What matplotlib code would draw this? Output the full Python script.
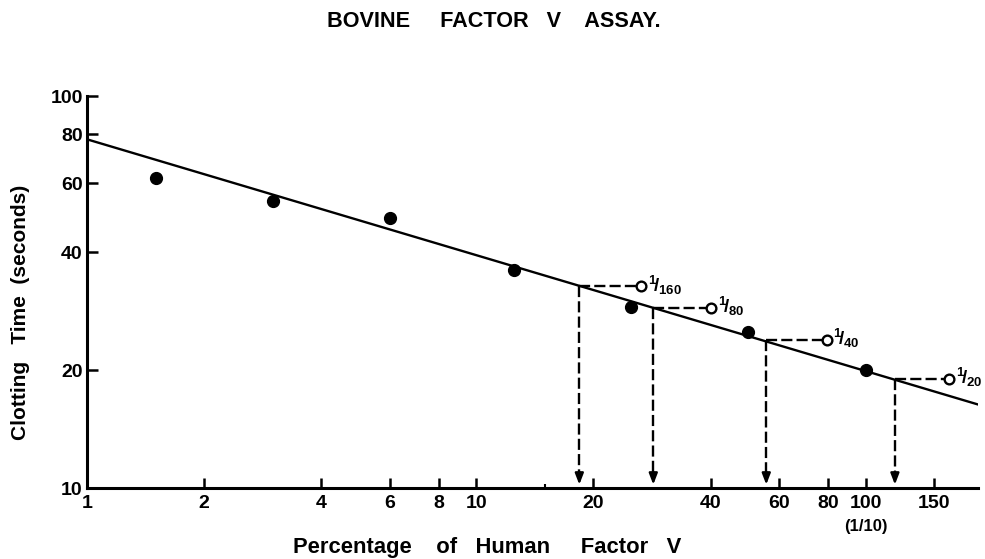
import matplotlib
matplotlib.use('Agg')
import matplotlib.pyplot as plt
from matplotlib.ticker import FixedLocator, FixedFormatter, NullFormatter

plt.rcParams['font.family'] = ['Liberation Sans', 'DejaVu Sans']
plt.rcParams['font.weight'] = 'bold'
plt.rcParams['mathtext.fontset'] = 'custom'
plt.rcParams['mathtext.rm'] = 'Liberation Sans:bold'
plt.rcParams['mathtext.bf'] = 'Liberation Sans:bold'
plt.rcParams['mathtext.it'] = 'Liberation Sans:bold'
plt.rcParams['lines.scale_dashes'] = False

# standard curve points (percentage of human factor V vs clotting time)
std_x = [1.5, 3, 6, 12.5, 25, 50, 100]
std_y = [62, 54, 49, 36, 29, 25, 20]
# fitted line end points
fit_x = [1, 196]
fit_y = [77.6, 16.3]
# unknown (bovine) dilutions
dil_labels = ['160', '80', '40', '20']
dil_y = [32.7, 28.8, 23.9, 19.0]
dil_x = [18.4, 28.5, 55.6, 119]
circle_x = [26.5, 40.2, 79.4, 164]
xticks = [1, 2, 4, 6, 8, 10, 20, 40, 60, 80, 100, 150]
xminor = [15]
yticks = [10, 20, 40, 60, 80, 100]

fig = plt.figure(figsize=(9.85, 5.59), dpi=100)
ax = fig.add_axes([0.0883, 0.127, 0.905, 0.701])
ax.set_xscale('log')
ax.set_yscale('log')
ax.set_xlim(1, 195)
ax.set_ylim(10, 100)

ax.plot(fit_x, fit_y, color='black', lw=1.7, solid_capstyle='butt', zorder=3)
ax.plot(std_x, std_y, 'o', color='black', ms=8.5, zorder=4)

dash = (0, (8, 3))
for lab, y, x, cx in zip(dil_labels, dil_y, dil_x, circle_x):
    ax.plot([x, cx], [y, y], color='black', lw=1.7, linestyle=dash, zorder=2)
    ax.plot([x, x], [y, 10.9], color='black', lw=1.7, linestyle=dash, zorder=2)
    ax.annotate('', xy=(x, 10.2), xytext=(x, 11.0),
                arrowprops=dict(arrowstyle='-|>,head_length=0.65,head_width=0.25',
                                color='black', lw=1.7, shrinkA=0, shrinkB=0))
    ax.plot([cx], [y], 'o', mfc='white', mec='black', mew=1.7, ms=7, zorder=5)
    ax.annotate(r'$^{1}\!/_{%s}$' % lab, xy=(cx, y), xytext=(5, 1),
                textcoords='offset points', ha='left', va='center', fontsize=13.5)

for s in ['top', 'right']:
    ax.spines[s].set_visible(False)
for s in ['left', 'bottom']:
    ax.spines[s].set_linewidth(2.2)

ax.xaxis.set_major_locator(FixedLocator(xticks))
ax.xaxis.set_major_formatter(FixedFormatter([str(t) for t in xticks]))
ax.xaxis.set_minor_locator(FixedLocator(xminor))
ax.xaxis.set_minor_formatter(NullFormatter())
ax.yaxis.set_major_locator(FixedLocator(yticks))
ax.yaxis.set_major_formatter(FixedFormatter([str(t) for t in yticks]))
ax.yaxis.set_minor_locator(FixedLocator([]))

ax.tick_params(axis='x', which='major', direction='in', length=7, width=1.8,
               labelsize=14, pad=5)
ax.tick_params(axis='x', which='minor', direction='in', length=3, width=1.5)
ax.tick_params(axis='y', which='major', direction='in', length=8, width=1.8,
               labelsize=14, pad=3)
for lbl in ax.get_xticklabels() + ax.get_yticklabels():
    lbl.set_fontweight('bold')

ax.annotate('(1/10)', xy=(100, 0), xycoords=('data', 'axes fraction'),
            xytext=(0, -28), textcoords='offset points', ha='center', va='center',
            fontsize=12, fontweight='bold')

fig.text(0.5015, 0.961, 'BOVINE     FACTOR   V    ASSAY.', ha='center', va='center',
         fontsize=15.6, fontweight='bold')
fig.text(0.4945, 0.02, 'Percentage    of   Human     Factor   V', ha='center', va='center',
         fontsize=15.8, fontweight='bold')
fig.text(0.021, 0.441, 'Clotting   Time  (seconds)', ha='center', va='center',
         rotation=90, fontsize=15, fontweight='bold')

fig.savefig('out.png', dpi=100)
